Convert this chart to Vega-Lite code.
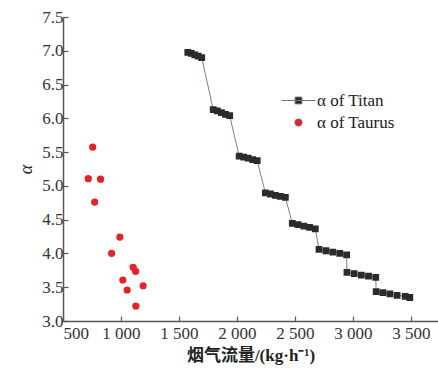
{
  "$schema": "https://vega.github.io/schema/vega-lite/v6.json",
  "autosize": "none",
  "width": 375,
  "height": 304,
  "padding": {"left": 63, "top": 17, "right": 0, "bottom": 50},
  "background": "white",
  "config": {
    "view": {"stroke": null},
    "font": "Liberation Serif",
    "axis": {
      "grid": false,
      "domainColor": "#555555",
      "domainWidth": 1.5,
      "tickColor": "#555555",
      "tickWidth": 1.2,
      "tickSize": -5,
      "labelFont": "Liberation Serif",
      "labelFontSize": 17,
      "labelColor": "#333333",
      "titleColor": "#222222"
    }
  },
  "data": {
    "values": [
      {"series": "α of Titan", "flow": 1576, "alpha": 6.975},
      {"series": "α of Titan", "flow": 1606, "alpha": 6.96},
      {"series": "α of Titan", "flow": 1636, "alpha": 6.94},
      {"series": "α of Titan", "flow": 1666, "alpha": 6.92},
      {"series": "α of Titan", "flow": 1696, "alpha": 6.90},
      {"series": "α of Titan", "flow": 1795, "alpha": 6.13},
      {"series": "α of Titan", "flow": 1830, "alpha": 6.11},
      {"series": "α of Titan", "flow": 1866, "alpha": 6.085},
      {"series": "α of Titan", "flow": 1901, "alpha": 6.06},
      {"series": "α of Titan", "flow": 1937, "alpha": 6.04},
      {"series": "α of Titan", "flow": 2019, "alpha": 5.44},
      {"series": "α of Titan", "flow": 2058, "alpha": 5.425},
      {"series": "α of Titan", "flow": 2096, "alpha": 5.41},
      {"series": "α of Titan", "flow": 2135, "alpha": 5.39},
      {"series": "α of Titan", "flow": 2174, "alpha": 5.375},
      {"series": "α of Titan", "flow": 2245, "alpha": 4.895},
      {"series": "α of Titan", "flow": 2288, "alpha": 4.88},
      {"series": "α of Titan", "flow": 2331, "alpha": 4.86},
      {"series": "α of Titan", "flow": 2374, "alpha": 4.845},
      {"series": "α of Titan", "flow": 2417, "alpha": 4.83},
      {"series": "α of Titan", "flow": 2477, "alpha": 4.445},
      {"series": "α of Titan", "flow": 2527, "alpha": 4.425},
      {"series": "α of Titan", "flow": 2576, "alpha": 4.405},
      {"series": "α of Titan", "flow": 2626, "alpha": 4.385},
      {"series": "α of Titan", "flow": 2675, "alpha": 4.365},
      {"series": "α of Titan", "flow": 2707, "alpha": 4.06},
      {"series": "α of Titan", "flow": 2767, "alpha": 4.04},
      {"series": "α of Titan", "flow": 2826, "alpha": 4.02},
      {"series": "α of Titan", "flow": 2886, "alpha": 4.0},
      {"series": "α of Titan", "flow": 2945, "alpha": 3.98},
      {"series": "α of Titan", "flow": 2948, "alpha": 3.72},
      {"series": "α of Titan", "flow": 3010, "alpha": 3.70},
      {"series": "α of Titan", "flow": 3072, "alpha": 3.68},
      {"series": "α of Titan", "flow": 3134, "alpha": 3.665},
      {"series": "α of Titan", "flow": 3196, "alpha": 3.645},
      {"series": "α of Titan", "flow": 3200, "alpha": 3.434},
      {"series": "α of Titan", "flow": 3258, "alpha": 3.419},
      {"series": "α of Titan", "flow": 3318, "alpha": 3.40},
      {"series": "α of Titan", "flow": 3380, "alpha": 3.38},
      {"series": "α of Titan", "flow": 3450, "alpha": 3.363},
      {"series": "α of Titan", "flow": 3490, "alpha": 3.348},
      {"series": "α of Taurus", "flow": 756, "alpha": 5.575},
      {"series": "α of Taurus", "flow": 718, "alpha": 5.106},
      {"series": "α of Taurus", "flow": 824, "alpha": 5.10},
      {"series": "α of Taurus", "flow": 773, "alpha": 4.76},
      {"series": "α of Taurus", "flow": 990, "alpha": 4.243},
      {"series": "α of Taurus", "flow": 919, "alpha": 4.002},
      {"series": "α of Taurus", "flow": 1105, "alpha": 3.795},
      {"series": "α of Taurus", "flow": 1126, "alpha": 3.736},
      {"series": "α of Taurus", "flow": 1016, "alpha": 3.607},
      {"series": "α of Taurus", "flow": 1053, "alpha": 3.459},
      {"series": "α of Taurus", "flow": 1191, "alpha": 3.522},
      {"series": "α of Taurus", "flow": 1128, "alpha": 3.222}
    ]
  },
  "encoding": {
    "x": {
      "field": "flow",
      "type": "quantitative",
      "scale": {"domain": [500, 3733], "nice": false, "zero": false},
      "axis": {
        "values": [500, 1000, 1500, 2000, 2500, 3000, 3500],
        "labelExpr": "replace(format(datum.value, ','), ',', ' ')",
        "title": "烟气流量/(kg·h⁻¹)",
        "titleFont": "Liberation Serif, Noto Sans CJK SC",
        "titleFontSize": 17,
        "titleFontWeight": "bold",
        "titlePadding": 6,
        "labelPadding": 9
      }
    },
    "y": {
      "field": "alpha",
      "type": "quantitative",
      "scale": {"domain": [3, 7.5], "nice": false, "zero": false},
      "axis": {
        "values": [3, 3.5, 4, 4.5, 5, 5.5, 6, 6.5, 7, 7.5],
        "format": ".1f",
        "title": "α",
        "titleFont": "Liberation Serif",
        "titleFontStyle": "italic",
        "titleFontWeight": "normal",
        "titleFontSize": 18,
        "titlePadding": 6,
        "labelPadding": 5
      }
    }
  },
  "layer": [
    {
      "transform": [{"filter": "datum.series === 'α of Titan'"}],
      "mark": {"type": "line", "color": "#8a7b7b", "strokeWidth": 1},
      "encoding": {"order": {"field": "flow", "type": "quantitative"}}
    },
    {
      "mark": {"type": "point", "filled": true, "opacity": 1},
      "encoding": {
        "color": {
          "field": "series",
          "type": "nominal",
          "scale": {"domain": ["α of Titan", "α of Taurus"], "range": ["#2b2b2b", "#e8202a"]},
          "legend": {
            "title": null,
            "orient": "none",
            "legendX": 227,
            "legendY": 75,
            "padding": 0,
            "labelFont": "Liberation Serif",
            "labelFontSize": 17,
            "labelColor": "#222222",
            "labelOffset": 10,
            "symbolSize": 46,
            "symbolStrokeColor": "#7d7070",
            "symbolStrokeWidth": 1,
            "rowPadding": 4
          }
        },
        "shape": {
          "field": "series",
          "type": "nominal",
          "scale": {"domain": ["α of Titan", "α of Taurus"], "range": ["M-5,0H5M-1,-1H1V1H-1Z", "circle"]},
          "legend": null
        },
        "size": {
          "field": "series",
          "type": "nominal",
          "scale": {"domain": ["α of Titan", "α of Taurus"], "range": [46, 52]},
          "legend": null
        }
      }
    }
  ]
}
